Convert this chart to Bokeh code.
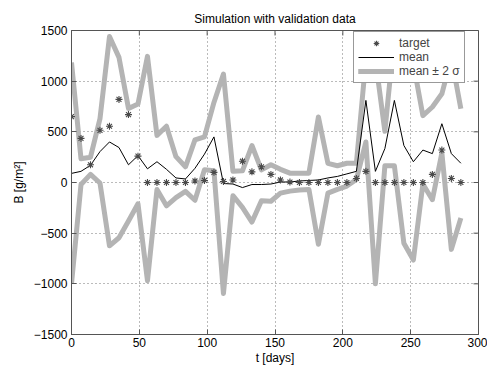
import math
from bokeh.plotting import figure
from bokeh.models import Range1d, FixedTicker, Legend, LegendItem, CustomJSTickFormatter
from bokeh.embed import file_html
from bokeh.resources import INLINE

# ---- data ----
t_days = [0, 7, 14, 21, 28, 35, 42, 49, 56, 63, 70, 77, 84, 91, 98, 105, 112, 119, 126, 133, 140,
          147, 154, 161, 168, 175, 182, 189, 196, 203, 210, 217, 224, 231, 238, 245, 252, 259, 266, 273, 280, 287]
target = [650, 435, 175, 515, 555, 820, 670, 260, 0, 0, 0, 0, 0, 15, 20, 100, 10, 25, 210, 105, 155,
          80, 25, 5, 0, 0, 0, 0, 0, 0, 40, 110, 0, 0, 0, 0, 0, 0, 80, 320, 40, 0]
mean = [90, 110, 170, 305, 400, 345, 175, 265, 135, 205, 130, 45, 35, 140, 280, 450, -10, -15, -50, -20, -20,
        -15, 5, 5, 15, 20, 25, 45, 60, 85, 110, 810, 110, 335, 810, 365, 205, 320, 285, 580, 285, 190]
upper = [1185, 235, 250, 630, 1440, 1235, 730, 775, 1245, 465, 555, 255, 155, 420, 450, 790, 1070, 110, 115, 365, 125,
         175, 130, 92, 92, 92, 646, 189, 165, 190, 190, 1215, 1215, 505, 1450, 1340, 1175, 660, 745, 875, 1235, 728]
lower = [-1000, -20, 80, -5, -625, -545, -380, -210, -970, -70, -230, -150, -88, -175, 125, 115, -1095, -130, -245, -390, -180,
         -185, -105, -85, -75, -68, -610, -105, -68, -35, 30, 400, -1000, 165, 165, -600, -765, -15, -170, 290, -660, -350]

x_ticks = [0, 50, 100, 150, 200, 250, 300]
y_ticks = [-1500, -1000, -500, 0, 500, 1000, 1500]

FONT = "Liberation Sans"
BAND = "#b4b4b4"
FRAME = "#555555"

p = figure(width=487, height=368, output_backend="svg", toolbar_location=None,
           x_range=Range1d(0, 300), y_range=Range1d(-1500, 1500),
           min_border_left=71, min_border_right=9, min_border_top=30, min_border_bottom=34,
           title="Simulation with validation data")
p.background_fill_color = "white"
p.border_fill_color = "white"
p.outline_line_color = FRAME
p.outline_line_width = 1

p.title.align = "center"
p.title.text_font = FONT
p.title.text_font_size = "12px"
p.title.text_font_style = "normal"
p.title.text_color = "black"
p.title.standoff = 9

fmt = CustomJSTickFormatter(code="return tick < 0 ? '\\u2212' + Math.abs(tick) : String(tick);")

for ax, ticks in ((p.xaxis[0], x_ticks), (p.yaxis[0], y_ticks)):
    ax.ticker = FixedTicker(ticks=ticks)
    ax.formatter = fmt
    ax.major_tick_in = 5
    ax.major_tick_out = 0
    ax.minor_tick_in = 0
    ax.minor_tick_out = 0
    ax.axis_line_color = FRAME
    ax.major_tick_line_color = FRAME
    ax.major_label_text_font = FONT
    ax.major_label_text_font_size = "12px"
    ax.major_label_text_color = "black"
    ax.axis_label_text_font = FONT
    ax.axis_label_text_font_size = "12px"
    ax.axis_label_text_font_style = "normal"
    ax.axis_label_text_color = "black"

p.xaxis[0].axis_label = "t [days]"
p.xaxis[0].major_label_standoff = 3
p.xaxis[0].axis_label_standoff = 1
p.yaxis[0].axis_label = "B [g/m\u00b2]"
p.yaxis[0].major_label_standoff = 4
p.yaxis[0].axis_label_standoff = 5

p.xgrid[0].ticker = FixedTicker(ticks=x_ticks)
p.ygrid[0].ticker = FixedTicker(ticks=y_ticks)
for g in (p.xgrid[0], p.ygrid[0]):
    g.grid_line_color = "#777777"
    g.grid_line_dash = "1 3"
    g.grid_line_width = 1

# inward ticks on the top and right edges of the box (half of each dash is clipped by the frame)
p.scatter([300] * len(y_ticks), y_ticks, marker="dash", size=10, line_color=FRAME, line_width=1)
p.scatter(x_ticks, [1500] * len(x_ticks), marker="dash", size=10, angle=math.pi / 2,
          line_color=FRAME, line_width=1)

lo = p.line(t_days, lower, line_color=BAND, line_width=5, line_join="round")
up = p.line(t_days, upper, line_color=BAND, line_width=5, line_join="round")
mn = p.line(t_days, mean, line_color="black", line_width=1)
tg = p.scatter(t_days, target, marker="asterisk", size=7, line_color="#4a4a4a", line_width=1.1)

legend = Legend(items=[LegendItem(label="target", renderers=[tg]),
                       LegendItem(label="mean", renderers=[mn]),
                       LegendItem(label="mean \u00b1 2 \u03c3", renderers=[up, lo])],
                location=(282, 251), padding=4, spacing=0, margin=0,
                glyph_width=36, glyph_height=14, label_height=14, label_standoff=5,
                label_text_font=FONT, label_text_font_size="12px",
                border_line_color="#333333", border_line_width=1,
                background_fill_color="white", background_fill_alpha=1)
p.add_layout(legend)

open("out.html", "w").write(file_html(p, INLINE))
